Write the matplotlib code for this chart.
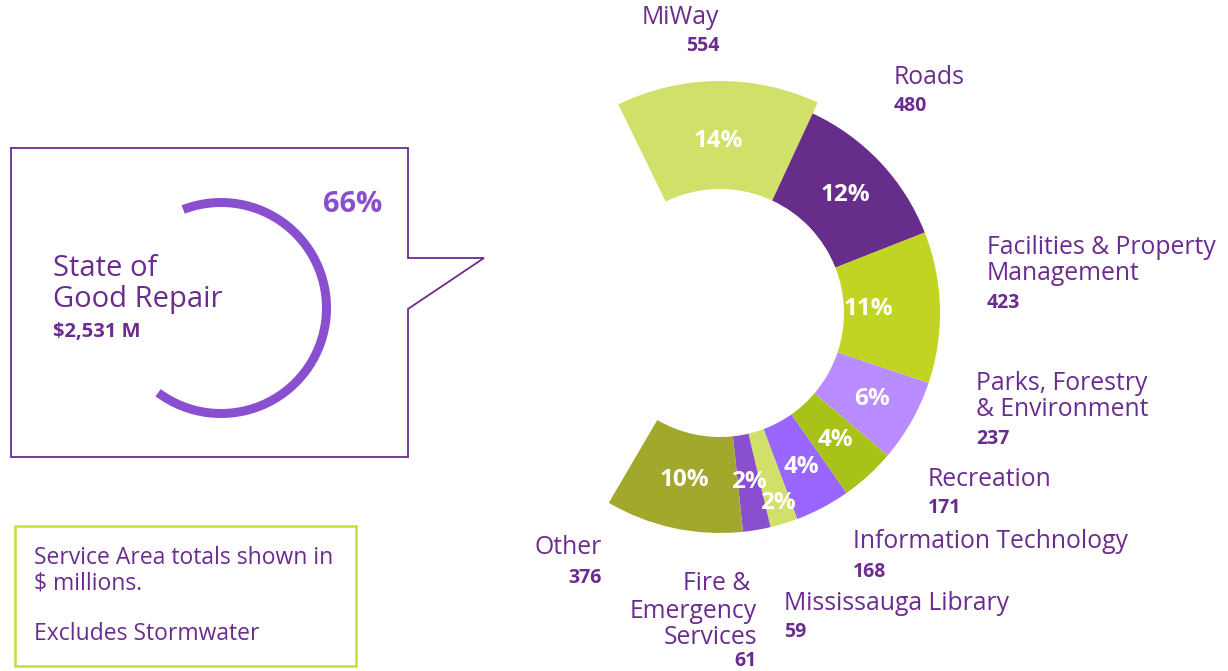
import matplotlib
matplotlib.use('Agg')
import matplotlib.pyplot as plt
import numpy as np
from matplotlib.patches import Polygon, Rectangle

# data
categories = ['MiWay', 'Roads', 'Facilities & Property\nManagement', 'Parks, Forestry\n& Environment',
              'Recreation', 'Information Technology', 'Mississauga Library', 'Fire & \nEmergency\nServices', 'Other']
totals = [554, 480, 423, 237, 171, 168, 59, 61, 376]
shares = [14, 12, 11, 6, 4, 4, 2, 2, 10]
seg_colors = ['#d0e068', '#662d8a', '#c2d423', '#b98cff', '#a8c21a', '#9966ff', '#d0e068', '#8a4fcf', '#a2a82b']
sgr_share = 66
sgr_title = ['State of', 'Good Repair']
sgr_total = '$2,531 M'
note_lines = ['Service Area totals shown in', '$ millions.', '', 'Excludes Stormwater']

W, H = 1228, 671
PURPLE = '#6b2c8f'
ARC = '#8a4fcf'
FONT = ['Open Sans', 'DejaVu Sans']

# label anchors in pixel space: x, first line y (from top), number y, alignment
label_pos = [(719, 17, 46, 'right'), (894, 77, 106, 'left'), (987, 247, 303, 'left'),
             (976, 383, 439, 'left'), (928, 479, 508, 'left'), (853, 542, 572, 'left'),
             (784, 604, 632, 'left'), (757, 584, 661, 'right'), (602, 548, 578, 'right')]
pct_radius = [172, 172, 148, 174, 172, 174, 199, 171, 171]

fig = plt.figure(figsize=(W / 100, H / 100), dpi=100)
ax = fig.add_axes([0, 0, 1, 1])

# main donut (gap = part of capital outside State of Good Repair)
cx, cy = 720, H - 313
r_in, r_out = 124, 220
wedges, _ = ax.pie(shares + [100 - sgr_share], colors=seg_colors + ['none'], startangle=116,
                   counterclock=False, radius=r_out, center=(cx, cy),
                   wedgeprops=dict(width=r_out - r_in, linewidth=0))
wedges[-1].set_visible(False)
wedges[0].set_radius(232)
wedges[0].set_width(232 - r_in)

for w, s, rl in zip(wedges[:-1], shares, pct_radius):
    mid = np.deg2rad((w.theta1 + w.theta2) / 2)
    ax.text(cx + rl * np.cos(mid), cy + rl * np.sin(mid), f'{s}%', color='white', fontsize=17.5,
            fontweight='bold', ha='center', va='center', family=FONT)

for name, tot, (lx, ly, ny, ha) in zip(categories, totals, label_pos):
    for i, line in enumerate(name.split('\n')):
        ax.text(lx, H - ly - 27 * i, line, color=PURPLE, fontsize=17.8, ha=ha, va='center', family=FONT)
    ax.text(lx, H - ny, f'{tot}', color=PURPLE, fontsize=14, fontweight='bold', ha=ha, va='center',
            family=FONT)

# callout box
box = [(11, 148), (408, 148), (408, 258), (484, 258), (408, 309), (408, 457), (11, 457)]
ax.add_patch(Polygon([(x, H - y) for x, y in box], closed=True, fill=False, edgecolor=PURPLE, linewidth=1.3))

acx, acy = 221, H - 308
ax.pie([sgr_share, 100 - sgr_share], colors=[ARC, 'none'], startangle=111, counterclock=False,
       radius=110, center=(acx, acy), wedgeprops=dict(width=9, linewidth=0))
ax.text(353, H - 204, f'{sgr_share}%', color=ARC, fontsize=21, fontweight='bold', ha='center',
        va='center', family=FONT)
for i, line in enumerate(sgr_title):
    ax.text(53, H - 268 - 31 * i, line, color=PURPLE, fontsize=21, ha='left', va='center', family=FONT)
ax.text(53, H - 332, sgr_total, color=PURPLE, fontsize=14.5, fontweight='bold', ha='left', va='center',
        family=FONT)

# note box
ax.add_patch(Rectangle((15, H - 666), 341, 140, fill=False, edgecolor='#c8dc3c', linewidth=1.8))
for i, line in enumerate(note_lines):
    ax.text(34, H - 558 - 25.5 * i, line, color=PURPLE, fontsize=16.5, ha='left', va='center', family=FONT)

ax.set_xlim(0, W)
ax.set_ylim(0, H)
ax.set_aspect('equal')
ax.axis('off')
fig.savefig('out.png', dpi=100, facecolor='white')
